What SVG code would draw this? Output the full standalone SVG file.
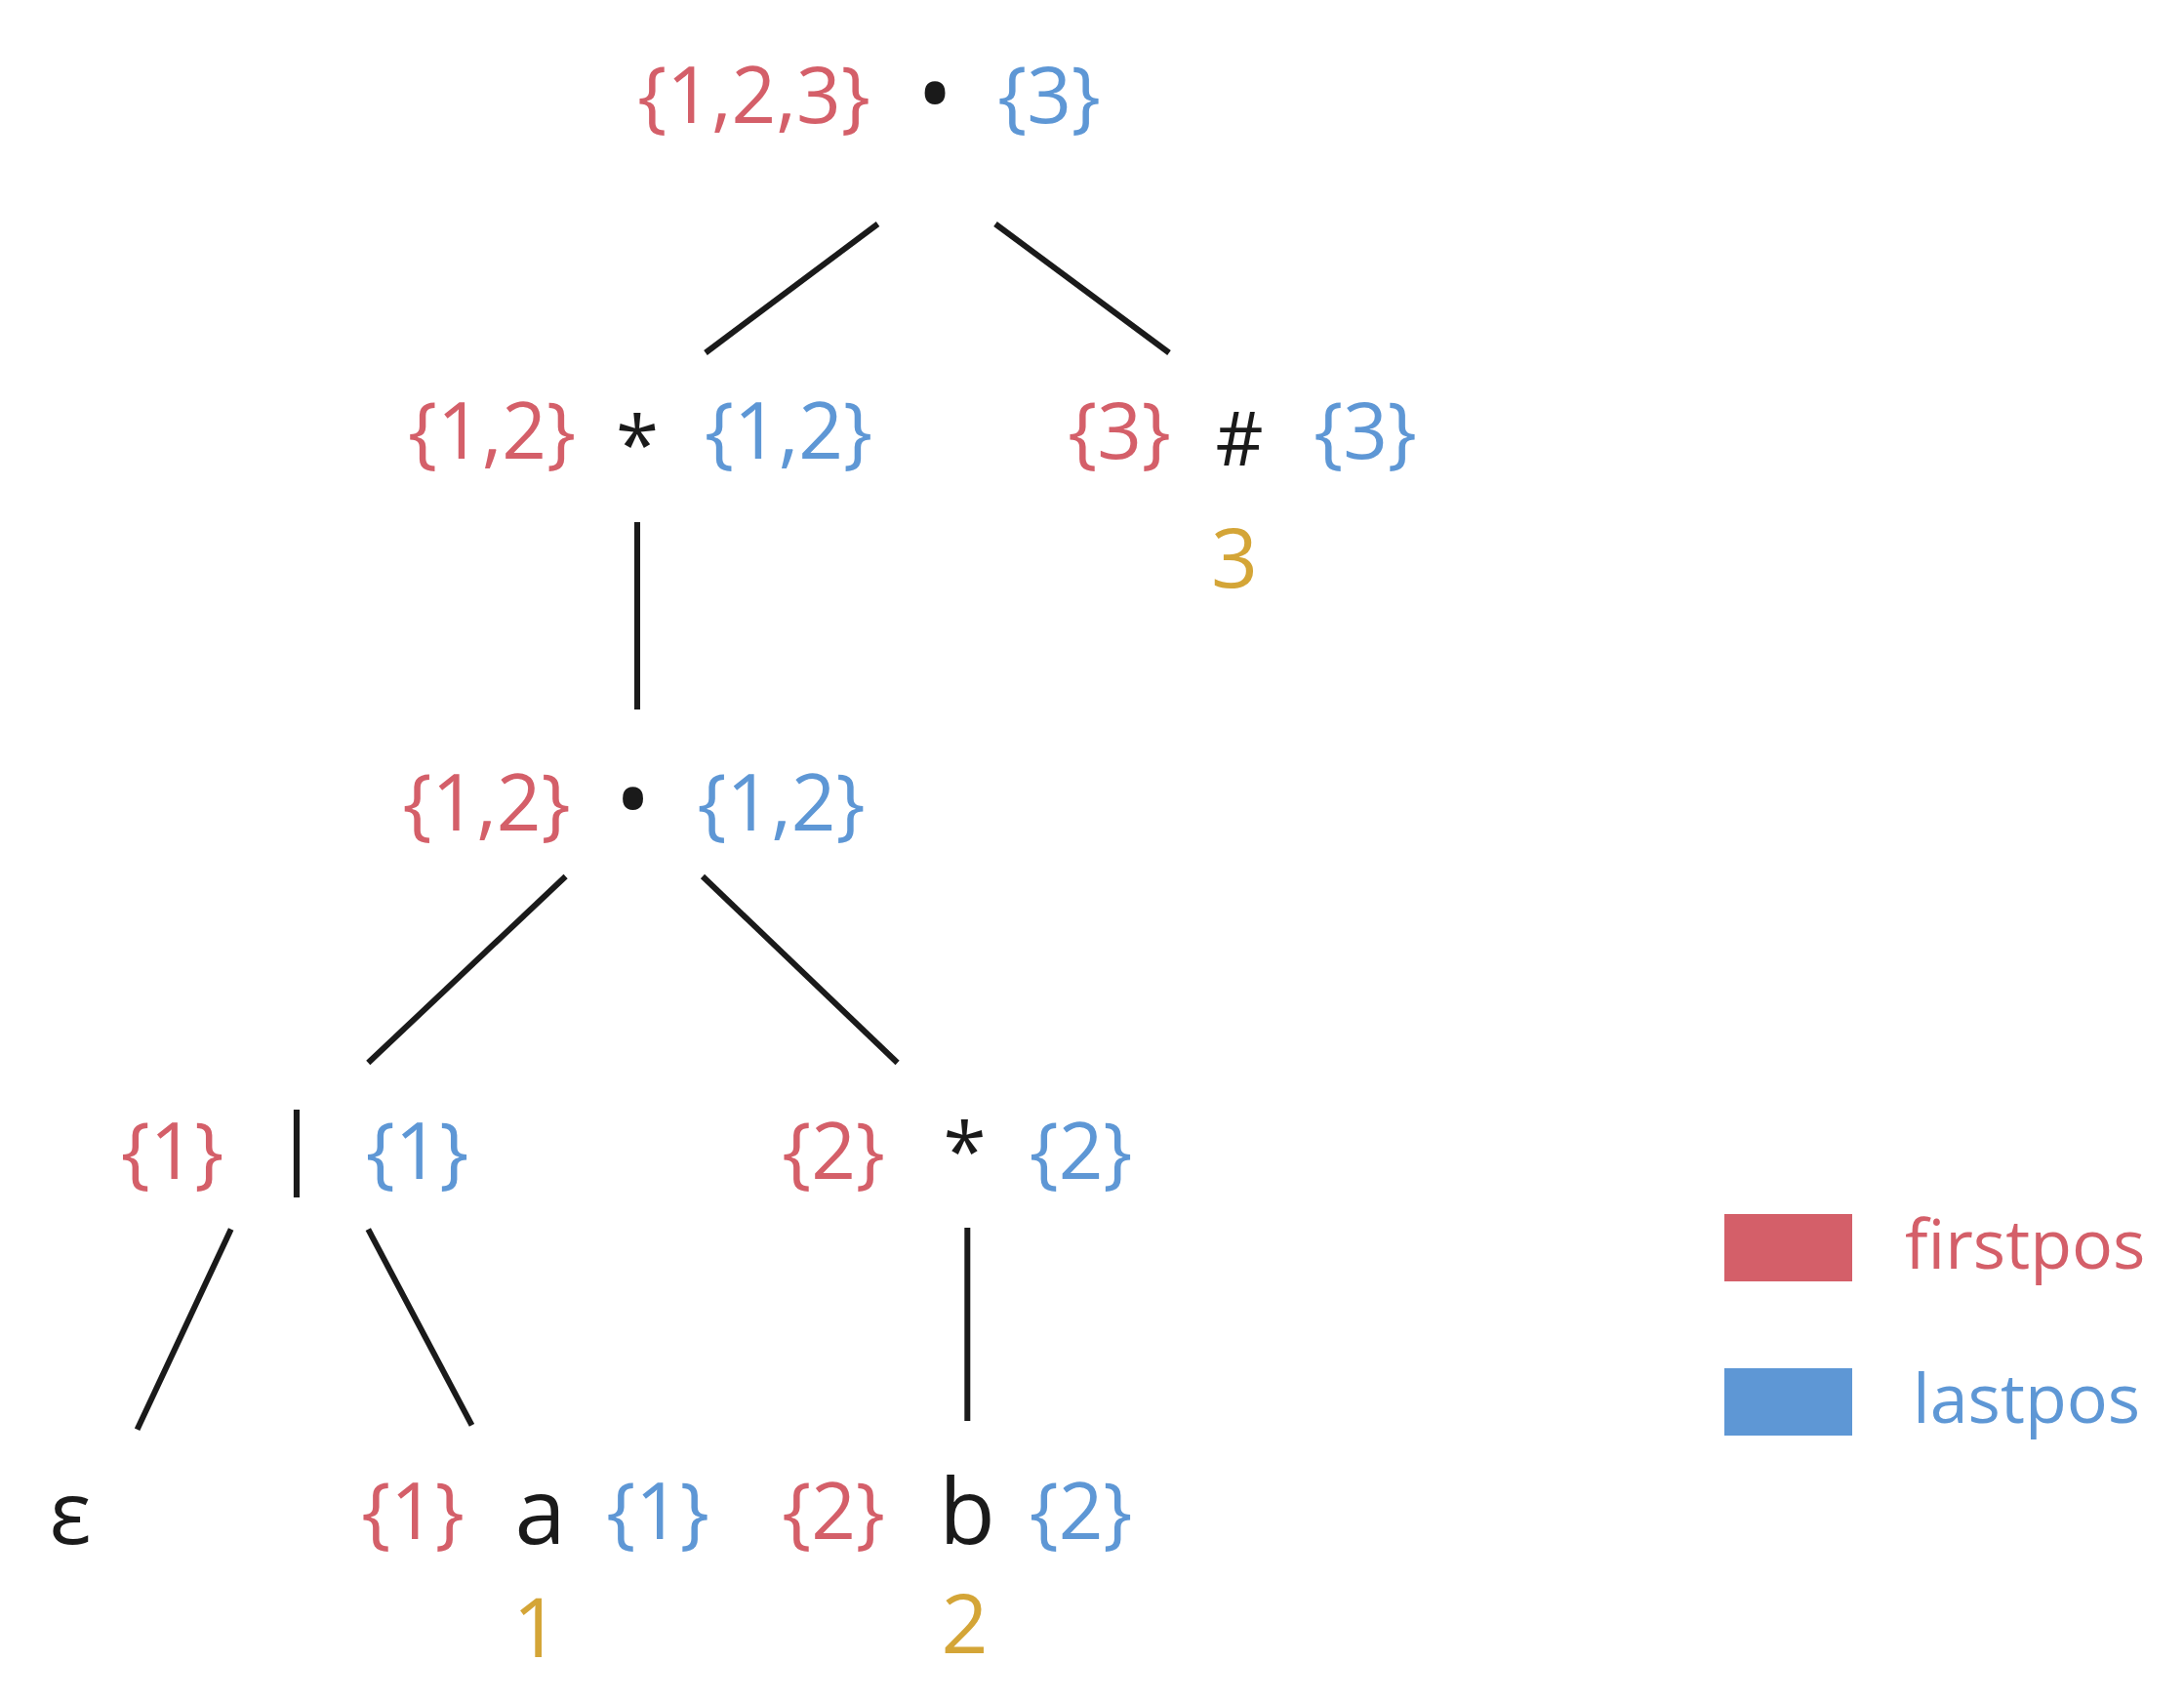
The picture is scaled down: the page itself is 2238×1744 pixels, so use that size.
<svg xmlns="http://www.w3.org/2000/svg" width="2238" height="1744" viewBox="0 0 2238 1744">
<style>
text{font-family:"Open Sans","Noto Sans","DejaVu Sans",sans-serif;text-anchor:middle}
.f{fill:#D45F69;font-size:80px}
.l{fill:#5E97D5;font-size:80px}
.op{fill:#1a1a1a;font-size:94px}
.ast{fill:#1a1a1a;font-size:80px}
.pos{fill:#D4A537;font-size:84px}
.edge{stroke:#1a1a1a;stroke-width:6;fill:none}
.leg{font-size:70px;text-anchor:start}
</style>
<rect width="2238" height="1744" fill="#ffffff"/>
<g id="connectors">
<line class="edge" x1="899.5" y1="229.5" x2="723" y2="361.5"/>
<line class="edge" x1="1020" y1="229.5" x2="1198" y2="361.5"/>
<line class="edge" x1="653" y1="535" x2="653" y2="727"/>
<line class="edge" x1="579.6" y1="898" x2="377.3" y2="1089"/>
<line class="edge" x1="720" y1="898" x2="919.6" y2="1089"/>
<line class="edge" x1="236.7" y1="1259.6" x2="140.6" y2="1464.7"/>
<line class="edge" x1="377.3" y1="1259.6" x2="483.5" y2="1460.4"/>
<line class="edge" x1="991.3" y1="1258" x2="991.3" y2="1456"/>
</g>
<g id="n-root">
<text class="f" x="772.5" y="126">{1,2,3}</text>
<text class="op" x="958" y="132" style="font-size:100px">•</text>
<text class="l" x="1075" y="126">{3}</text>
</g>
<g id="n-star1">
<text class="f" x="504" y="470">{1,2}</text>
<text class="ast" x="653" y="484">*</text>
<text class="l" x="808" y="470">{1,2}</text>
</g>
<g id="n-hash">
<text class="f" x="1147" y="470">{3}</text>
<text class="op" x="1270" y="477" style="font-size:76px">#</text>
<text class="l" x="1399" y="470">{3}</text>
<text class="pos" x="1265" y="602">3</text>
</g>
<g id="n-cat2">
<text class="f" x="498.5" y="851">{1,2}</text>
<text class="op" x="648.5" y="855" style="font-size:100px">•</text>
<text class="l" x="800.5" y="851">{1,2}</text>
</g>
<g id="n-or">
<text class="f" x="176.5" y="1208">{1}</text>
<text class="op" x="304" y="1205" style="font-size:90px">|</text>
<text class="l" x="427.5" y="1208">{1}</text>
</g>
<g id="n-star2">
<text class="f" x="854" y="1208">{2}</text>
<text class="ast" x="988.5" y="1208">*</text>
<text class="l" x="1107.5" y="1208">{2}</text>
</g>
<g id="n-eps">
<text class="op" x="72" y="1582" style="font-size:90px">ε</text>
</g>
<g id="n-a">
<text class="f" x="423" y="1577">{1}</text>
<text class="op" x="553.7" y="1582">a</text>
<text class="l" x="674" y="1577">{1}</text>
<text class="pos" x="549.5" y="1698">1</text>
</g>
<g id="n-b">
<text class="f" x="854" y="1577">{2}</text>
<text class="op" x="991" y="1582">b</text>
<text class="l" x="1107.5" y="1577">{2}</text>
<text class="pos" x="988.5" y="1694">2</text>
</g>
<g id="legend">
<rect x="1767" y="1244" width="131" height="69" fill="#D45F69"/>
<text class="leg" x="1952" y="1300" fill="#D45F69">firstpos</text>
<rect x="1767" y="1402" width="131" height="69" fill="#5E97D5"/>
<text class="leg" x="1960" y="1458" fill="#5E97D5">lastpos</text>
</g>
</svg>
